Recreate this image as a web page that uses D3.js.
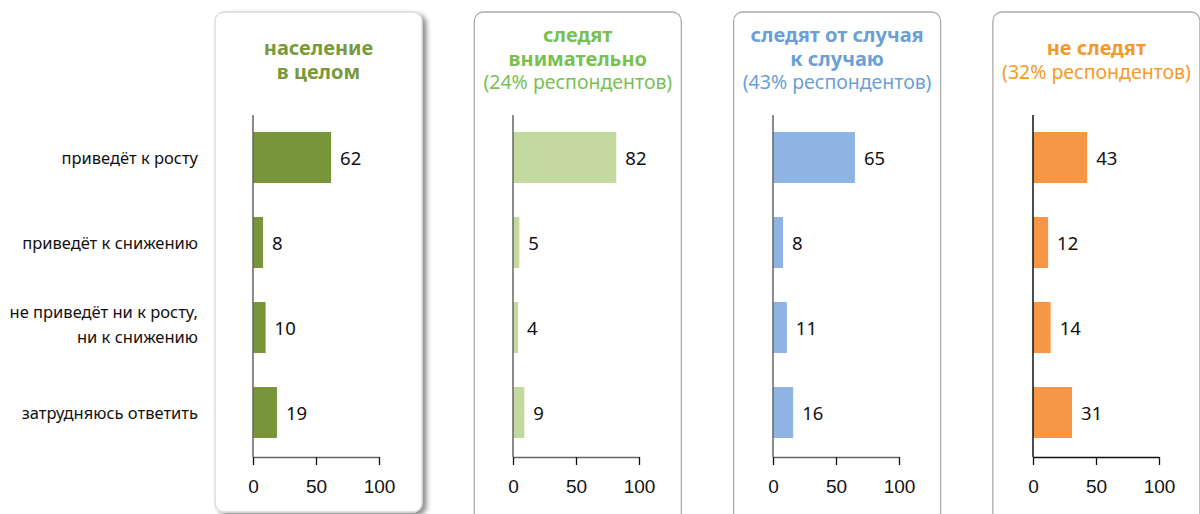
<!DOCTYPE html>
<html>
<head>
  <meta charset="UTF-8">
  <title>Отношение к событию</title>
  <style>
    body { margin: 0; background: #fff; }
    svg { display: block; font-family: "Noto Sans", sans-serif; }
    .cat { font-size: 16.5px; fill: #111; }
    .val { font-size: 18.5px; fill: #111; }
    .tick-label { font-size: 19px; fill: #111; }
  </style>
</head>
<body>
<svg id="chart" width="1200" height="514"></svg>

<script src="https://d3js.org/d3.v7.min.js"></script>
<script>
  // categories (rows)
  var categories = ["приведёт к росту", "приведёт к снижению", "не приведёт ни к росту,|ни к снижению", "затрудняюсь ответить"]

  // values for each group, same order as categories
  var valuesAll = [62, 8, 10, 19]
  var valuesAttentive = [82, 5, 4, 9]
  var valuesOccasional = [65, 8, 11, 16]
  var valuesNot = [43, 12, 14, 31]

  // panel titles (bold lines, then the regular line)
  var titleBold = [["население", "в целом"], ["следят", "внимательно"], ["следят от случая", "к случаю"], ["не следят"]]
  var titleSub = ["", "(24% респондентов)", "(43% респондентов)", "(32% респондентов)"]

  var tickValues = [0, 50, 100]

  var barColors = ["#79953a", "#c4d9a0", "#8db4e2", "#f79646"]
  var titleColors = ["#789a3c", "#7abf52", "#6b9fd6", "#f39a2c"]
  var axisColors = ["#666", "#666", "#666", "#111"]

  var allValues = [valuesAll, valuesAttentive, valuesOccasional, valuesNot]

  var svg = d3.select("#chart")

  // drop shadow for the first panel
  var defs = svg.append("defs")
  defs.append("filter")
    .attr("id", "shadow")
    .attr("x", "-10%").attr("y", "-10%")
    .attr("width", "130%").attr("height", "130%")
    .append("feDropShadow")
    .attr("dx", 4).attr("dy", 3)
    .attr("stdDeviation", 2.5)
    .attr("flood-color", "#000")
    .attr("flood-opacity", 0.45)

  // shared y scale (rows)
  let yScale = d3.scaleBand()
    .domain(categories)
    .range([115, 455])
    .paddingInner(0.4)
    .paddingOuter(0.2)

  // category labels on the left
  var catLabels = svg.append("g")
  categories.forEach(function(c) {
    var lines = c.split("|")
    var cy = yScale(c) + yScale.bandwidth() / 2
    var t = catLabels.append("text")
      .attr("class", "cat")
      .attr("text-anchor", "end")
    if (lines.length === 1) {
      t.attr("x", 198).attr("y", cy + 6).text(lines[0])
    } else {
      t.append("tspan").attr("x", 198).attr("y", cy - 10).text(lines[0])
      t.append("tspan").attr("x", 198).attr("y", cy + 15).text(lines[1])
    }
  })

  ////////////////////////////////////////////
  //        draw one panel per group       //
  //////////////////////////////////////////

  allValues.forEach(function(values, i) {
    var px = 215 + i * 259.3
    var x0 = 253 + i * 260

    var panel = svg.append("g")

    // rounded frame
    var frame = panel.append("rect")
      .attr("x", px)
      .attr("y", 12)
      .attr("width", 207)
      .attr("height", i === 0 ? 500 : 520)
      .attr("rx", 9)
      .attr("fill", "#fff")
      .attr("stroke", i === 0 ? "#d8d8d8" : "#ababab")
      .attr("stroke-width", 1.3)
    if (i === 0) frame.attr("filter", "url(#shadow)")

    // title as one text element with tspans
    var cx = px + 103.5
    var bold = titleBold[i]
    var top = bold.length === 2 && titleSub[i] ? 42 : 55
    var title = panel.append("text")
      .attr("text-anchor", "middle")
      .attr("fill", titleColors[i])
    bold.forEach(function(line, k) {
      title.append("tspan")
        .attr("x", cx)
        .attr("y", top + k * 23.5)
        .attr("font-size", 20)
        .attr("font-weight", "bold")
        .text(line)
    })
    if (titleSub[i]) {
      title.append("tspan")
        .attr("x", cx)
        .attr("y", top + bold.length * 23.5)
        .attr("font-size", 19.5)
        .text(titleSub[i])
    }

    let xScale = d3.scaleLinear()
      .domain([0, 100])
      .range([x0, x0 + 126])

    // bars
    panel.selectAll("rect.bar")
      .data(values)
      .join("rect")
      .attr("class", "bar")
      .attr("x", xScale(0))
      .attr("y", (d, j) => yScale(categories[j]))
      .attr("width", d => xScale(d) - xScale(0))
      .attr("height", yScale.bandwidth())
      .attr("fill", barColors[i])

    // value labels
    panel.selectAll("text.val")
      .data(values)
      .join("text")
      .attr("class", "val")
      .attr("x", d => xScale(d) + 9)
      .attr("y", (d, j) => yScale(categories[j]) + yScale.bandwidth() / 2 + 7)
      .text(d => d)

    // x axis
    var xAxis = panel.append("g")
      .attr("transform", "translate(0,457)")
      .call(d3.axisBottom(xScale).tickValues(tickValues).tickSize(8).tickSizeOuter(0))
    xAxis.select(".domain").attr("stroke", axisColors[i]).attr("stroke-width", 1.5)
    xAxis.selectAll(".tick line").attr("stroke", "#111").attr("stroke-width", 1.3)
    xAxis.selectAll(".tick text")
      .attr("class", "tick-label")
      .attr("font-family", null)
      .attr("font-size", null)
      .attr("fill", null)
      .attr("y", 23)
      .attr("dy", "0.71em")

    // y axis line
    panel.append("line")
      .attr("x1", xScale(0)).attr("x2", xScale(0))
      .attr("y1", 115).attr("y2", 457)
      .attr("stroke", axisColors[i])
      .attr("stroke-width", 1.5)
  })
</script>
</body>
</html>
